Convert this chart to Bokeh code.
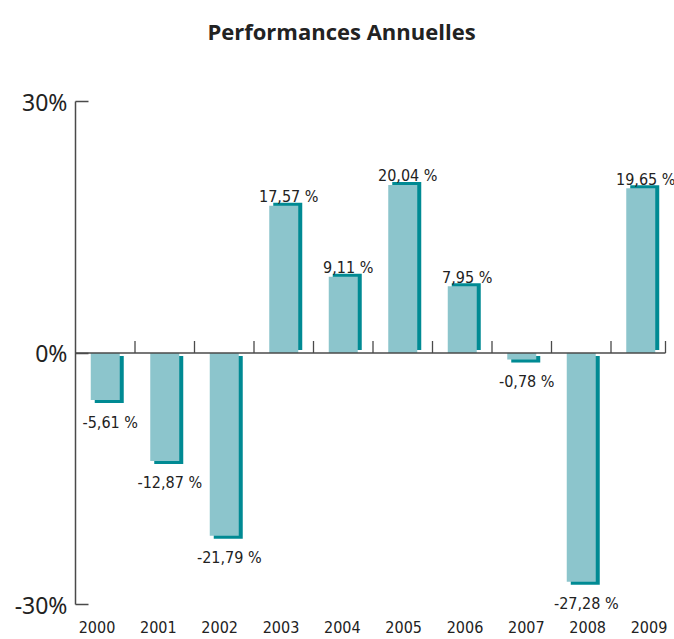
from bokeh.plotting import figure
from bokeh.models import Range1d, FixedTicker, PrintfTickFormatter
from bokeh.core.properties import value
from bokeh.embed import file_html
from bokeh.resources import INLINE

# ---- data ----
years = ["2000", "2001", "2002", "2003", "2004", "2005", "2006", "2007", "2008", "2009"]
perf = [-5.61, -12.87, -21.79, 17.57, 9.11, 20.04, 7.95, -0.78, -27.28, 19.65]
value_labels = ["-5,61 %", "-12,87 %", "-21,79 %", "17,57 %", "9,11 %",
                "20,04 %", "7,95 %", "-0,78 %", "-27,28 %", "19,65 %"]
y_ticks = [-30, 0, 30]
title_text = "Performances Annuelles"

# ---- layout ----
W, H = 674, 639
FL = 75
n = len(years)
ppx = 59.5
x_end = (W - FL) / ppx
zero_end = n - 0.084
y_top_px, y_bot_px = 101, 604
ppy = (y_bot_px - y_top_px) / (y_ticks[-1] - y_ticks[0])
y_max = y_ticks[-1] + y_top_px / ppy
y_min = y_ticks[0] - (H - y_bot_px) / ppy

LIGHT = "#8cc5cc"
DARK = "#008a93"
AXIS = "#4a4a4a"
TEXT = "#222222"
NARROW = "DejaVu Sans Condensed"

p = figure(width=W, height=H, x_range=Range1d(0, x_end), y_range=Range1d(y_min, y_max),
           x_axis_type=None, output_backend="svg", toolbar_location=None, title=None,
           min_border_left=FL, min_border_right=0, min_border_top=0, min_border_bottom=0)
p.outline_line_color = None
p.grid.grid_line_color = None
p.background_fill_color = "white"

ax = p.yaxis[0]
ax.bounds = (y_ticks[0], y_ticks[-1])
ax.ticker = FixedTicker(ticks=y_ticks)
ax.formatter = PrintfTickFormatter(format="%d%%")
ax.axis_line_color = AXIS
ax.axis_line_width = 1.5
ax.major_tick_line_color = AXIS
ax.major_tick_line_width = 1.5
ax.major_tick_in = 13
ax.major_tick_out = 0
ax.minor_tick_line_color = None
ax.major_label_standoff = 8
ax.major_label_text_font = "Noto Sans"
ax.major_label_text_font_size = "23px"
ax.major_label_text_color = TEXT

xs = [i + 0.5 for i in range(n)]
bw = 29 / ppx
dx = 4 / ppx
dy = 3 / ppy
sh_top = [v + dy if v > 0 else -dy for v in perf]
sh_bot = [dy if v > 0 else v - dy for v in perf]

p.vbar(x=[x + dx for x in xs], width=bw, top=sh_top, bottom=sh_bot,
       fill_color=DARK, line_color=None)
p.vbar(x=xs, width=bw, top=perf, bottom=0, fill_color=LIGHT, line_color=None)

# zero line and category ticks
p.segment(x0=[0], y0=[0], x1=[zero_end], y1=[0], line_color=AXIS, line_width=1.5)
bounds_x = list(range(1, n)) + [zero_end]
p.segment(x0=bounds_x, y0=[0] * len(bounds_x), x1=bounds_x, y1=[12 / ppy] * len(bounds_x),
          line_color=AXIS, line_width=1.3)

# value labels
offs = [-9 if v > 0 else 22 for v in perf]
p.text(x=xs, y=perf, text=value_labels, x_offset=5, y_offset=offs,
       text_align="center", text_baseline="alphabetic",
       text_font=value(NARROW), text_font_size="16px", text_color=TEXT)

# year labels
lab_x = [(21.5 + 61.33 * i) / ppx for i in range(n)]
lab_y = y_ticks[0] - (626 - y_bot_px) / ppy
p.text(x=lab_x, y=[lab_y] * n, text=years, text_align="center", text_baseline="middle",
       text_font=value(NARROW), text_font_size="16px", text_color=TEXT)

# title
p.text(x=[(341 - FL) / ppx], y=[y_ticks[-1] + (y_top_px - 30) / ppy], text=[title_text],
       text_align="center", text_baseline="middle", text_font=value("Open Sans"),
       text_font_style="bold", text_font_size="22px", text_color=TEXT)

open("out.html", "w").write(file_html(p, INLINE))
